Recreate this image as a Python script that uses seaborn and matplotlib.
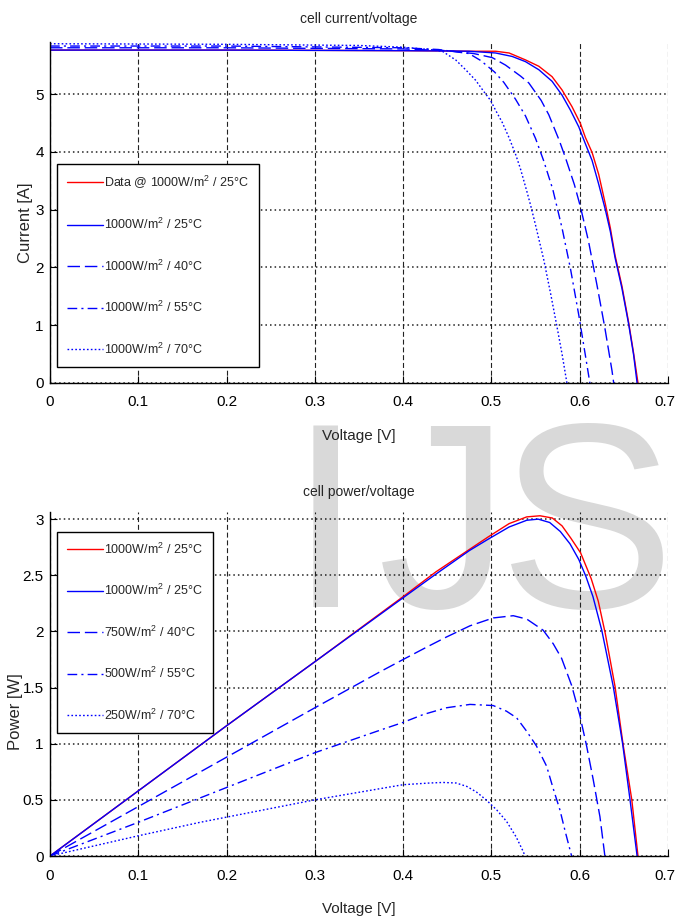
import matplotlib
matplotlib.use('Agg')
import matplotlib.pyplot as plt
from matplotlib import font_manager
from matplotlib.ticker import FormatStrFormatter
from matplotlib.transforms import ScaledTranslation
import seaborn as sns

# I-V curves, 1000 W/m2 at several cell temperatures
v_data = [0, 0.2, 0.4, 0.45, 0.4746, 0.5047, 0.520, 0.5386, 0.5537, 0.5687, 0.580, 0.5913, 0.6008,
          0.6064, 0.614, 0.6215, 0.629, 0.6347, 0.640, 0.6478, 0.6554, 0.661, 0.666]
i_data = [5.76, 5.76, 5.75, 5.745, 5.74, 5.74, 5.71, 5.59, 5.48, 5.30, 5.07, 4.78, 4.49,
          4.25, 3.99, 3.61, 3.10, 2.68, 2.21, 1.68, 1.05, 0.52, 0]

v_25 = [0, 0.2, 0.4, 0.45, 0.4746, 0.5047, 0.5235, 0.5386, 0.5537, 0.5687, 0.580, 0.5895, 0.599,
        0.6064, 0.614, 0.6215, 0.629, 0.6347, 0.640, 0.6478, 0.6554, 0.661, 0.665]
i_25 = [5.76, 5.76, 5.75, 5.745, 5.74, 5.71, 5.65, 5.56, 5.42, 5.22, 4.98, 4.72, 4.43,
        4.14, 3.85, 3.44, 3.00, 2.62, 2.17, 1.64, 1.02, 0.49, 0]

v_40 = [0, 0.2, 0.4, 0.45, 0.48, 0.5009, 0.516, 0.533, 0.5424, 0.5563, 0.565, 0.577, 0.5838,
        0.594, 0.6008, 0.610, 0.6196, 0.6283, 0.6366, 0.6385]
i_40 = [5.80, 5.80, 5.78, 5.75, 5.70, 5.63, 5.50, 5.31, 5.19, 4.89, 4.64, 4.19, 3.90,
        3.43, 3.05, 2.45, 1.69, 0.97, 0.21, 0]

v_55 = [0, 0.2, 0.4, 0.44, 0.4746, 0.4878, 0.5036, 0.5141, 0.5273, 0.5386, 0.55, 0.5593, 0.5695,
        0.580, 0.5895, 0.599, 0.6064, 0.6115]
i_55 = [5.83, 5.83, 5.80, 5.77, 5.70, 5.58, 5.38, 5.20, 4.91, 4.62, 4.23, 3.84, 3.35,
        2.68, 1.98, 1.17, 0.48, 0]

v_70 = [0, 0.2, 0.35, 0.40, 0.43, 0.4444, 0.4595, 0.4708, 0.482, 0.4915, 0.499, 0.5047, 0.5122,
        0.5198, 0.5273, 0.533, 0.5404, 0.5443, 0.55, 0.5593, 0.567, 0.5743, 0.580, 0.5855]
i_70 = [5.87, 5.86, 5.84, 5.81, 5.77, 5.74, 5.59, 5.42, 5.24, 5.04, 4.89, 4.72, 4.51,
        4.25, 3.96, 3.70, 3.30, 3.08, 2.73, 2.13, 1.55, 0.97, 0.50, 0]

# P-V curves
pv_data = [0, 0.1, 0.2, 0.3, 0.4, 0.437, 0.475, 0.496, 0.52, 0.54, 0.555, 0.569, 0.58, 0.59,
           0.601, 0.613, 0.621, 0.629, 0.64, 0.649, 0.659, 0.666]
pp_data = [0, 0.58, 1.16, 1.73, 2.31, 2.53, 2.73, 2.84, 2.96, 3.02, 3.03, 3.01, 2.94, 2.83,
           2.70, 2.47, 2.27, 1.98, 1.51, 1.00, 0.50, 0]

pv_1000 = [0, 0.1, 0.2, 0.3, 0.4, 0.437, 0.475, 0.496, 0.52, 0.54, 0.553, 0.566, 0.578, 0.589,
           0.599, 0.607, 0.615, 0.625, 0.638, 0.6486, 0.657, 0.665]
pp_1000 = [0, 0.58, 1.16, 1.73, 2.30, 2.51, 2.72, 2.82, 2.93, 2.99, 3.00, 2.97, 2.89, 2.78,
           2.64, 2.49, 2.31, 2.01, 1.51, 1.00, 0.50, 0]

pv_750 = [0, 0.1, 0.2, 0.3, 0.3737, 0.40, 0.4266, 0.449, 0.4757, 0.502, 0.5247, 0.54, 0.5587,
          0.57, 0.5795, 0.5908, 0.6002, 0.6078, 0.6153, 0.6229, 0.6285]
pp_750 = [0, 0.44, 0.88, 1.32, 1.64, 1.75, 1.86, 1.95, 2.05, 2.12, 2.14, 2.11, 2.01,
          1.89, 1.76, 1.52, 1.25, 0.98, 0.68, 0.35, 0]

pv_500 = [0, 0.1, 0.2, 0.3, 0.3737, 0.40, 0.4228, 0.449, 0.4757, 0.502, 0.517, 0.5286, 0.54,
          0.551, 0.5625, 0.57, 0.5776, 0.5832, 0.5908]
pp_500 = [0, 0.30, 0.61, 0.92, 1.12, 1.19, 1.26, 1.32, 1.35, 1.34, 1.29, 1.23, 1.11,
          0.98, 0.80, 0.60, 0.41, 0.23, 0]

pv_250 = [0, 0.1, 0.17, 0.3, 0.4, 0.43, 0.445, 0.46, 0.472, 0.483, 0.494, 0.506, 0.517, 0.528,
          0.536, 0.538]
pp_250 = [0, 0.18, 0.30, 0.50, 0.635, 0.65, 0.655, 0.65, 0.62, 0.57, 0.50, 0.41, 0.31, 0.17,
          0.04, 0]

iv_labels = ['Data @ 1000W/m$^2$ / 25°C', '1000W/m$^2$ / 25°C', '1000W/m$^2$ / 40°C',
             '1000W/m$^2$ / 55°C', '1000W/m$^2$ / 70°C']
pv_labels = ['1000W/m$^2$ / 25°C', '1000W/m$^2$ / 25°C', '750W/m$^2$ / 40°C',
             '500W/m$^2$ / 55°C', '250W/m$^2$ / 70°C']
x_ticks = [0, 0.1, 0.2, 0.3, 0.4, 0.5, 0.6, 0.7]

names = {f.name for f in font_manager.fontManager.ttflist}
narrow = 'Liberation Sans Narrow' if 'Liberation Sans Narrow' in names else 'Liberation Sans'

sns.set_theme(style='white')
plt.rcParams['font.family'] = [narrow, 'DejaVu Sans']
plt.rcParams['mathtext.default'] = 'regular'

styles = [('#ff0000', '-'), ('#0000ff', '-'), ('#0000ff', (0, (9, 3.5))),
          ('#0000ff', (0, (7, 3, 1.5, 3))), ('#0000ff', (0, (1.2, 1.6)))]

fig = plt.figure(figsize=(6.77, 9.21), dpi=100)
# grey watermark behind the plots
for ch, xp in (('I', 289), ('J', 378), ('S', 499)):
    fig.text(xp / 677, 1 - 607 / 921, ch, fontsize=190, color='#d9d9d9',
             family='Liberation Sans', ha='left', va='baseline', zorder=-5)

ax1 = fig.add_axes([50 / 677, 1 - 383 / 921, 618 / 677, 341 / 921])
ax2 = fig.add_axes([50 / 677, 1 - 856 / 921, 618 / 677, 343.6 / 921])


def draw(ax, xs, ys, labels):
    for (x, y), lab, (c, ls) in zip(zip(xs, ys), labels, styles):
        sns.lineplot(x=x, y=y, ax=ax, color=c, linestyle=ls, linewidth=1.0,
                     label=lab, sort=False, estimator=None)


draw(ax1, [v_data, v_25, v_40, v_55, v_70], [i_data, i_25, i_40, i_55, i_70], iv_labels)
draw(ax2, [pv_data, pv_1000, pv_750, pv_500, pv_250],
     [pp_data, pp_1000, pp_750, pp_500, pp_250], pv_labels)

for ax in (ax1, ax2):
    ax.set_facecolor('none')
    ax.set_xlim(0, 0.7)
    ax.set_xticks(x_ticks)
    ax.xaxis.set_major_formatter(FormatStrFormatter('%g'))
    ax.yaxis.set_major_formatter(FormatStrFormatter('%g'))
    ax.spines[['top', 'right']].set_visible(False)
    for s in ('left', 'bottom'):
        ax.spines[s].set_color('black')
        ax.spines[s].set_linewidth(1.0)
    ax.tick_params(direction='in', length=5, width=0.8, left=True, bottom=True,
                   top=False, right=False, labelsize=11, colors='black')
    ax.tick_params(axis='x', pad=9)
    ax.tick_params(axis='y', pad=4.5)
    ax.grid(False)
    ax.xaxis.grid(True, linestyle=(0, (4.5, 2.5)), color='#222222', linewidth=0.8)
    ax.yaxis.grid(True, linestyle=(0, (1, 2)), color='#222222', linewidth=1.1)
    ax.set_axisbelow(True)
    ax.set_xlabel('Voltage [V]', fontsize=11, labelpad=14)

ax1.set_ylim(0, 5.9)
ax1.set_yticks([0, 1, 2, 3, 4, 5])
ax2.set_ylim(0, 3.06)
ax2.set_yticks([0, 0.5, 1, 1.5, 2, 2.5, 3])

fig.canvas.draw()
for ax in (ax1, ax2):
    last = ax.get_xticklabels()[-1]
    last.set_transform(last.get_transform() + ScaledTranslation(-3 / 100, 0, fig.dpi_scale_trans))

ax1.set_title('cell current/voltage', fontsize=10, pad=14)
ax2.set_title('cell power/voltage', fontsize=10, pad=12)
ax1.set_ylabel('Current [A]', fontsize=12, family='Liberation Sans')
ax2.set_ylabel('Power [W]', fontsize=12, family='Liberation Sans')
ax1.yaxis.set_label_coords(-0.028, 0.47)
ax2.yaxis.set_label_coords(-0.044, 0.42)

leg_kw = dict(loc='upper left', fontsize=9, frameon=True, fancybox=False, framealpha=1,
              edgecolor='black', borderpad=0.8, handlelength=2.9, handletextpad=0.1,
              labelspacing=2.1, borderaxespad=0)
l1 = ax1.legend(bbox_to_anchor=(0.0108, 0.643), **leg_kw)
l2 = ax2.legend(bbox_to_anchor=(0.0108, 0.944), **leg_kw)
for lg in (l1, l2):
    lg.get_frame().set_linewidth(1.0)

fig.savefig('out.png', dpi=100, facecolor='white')
